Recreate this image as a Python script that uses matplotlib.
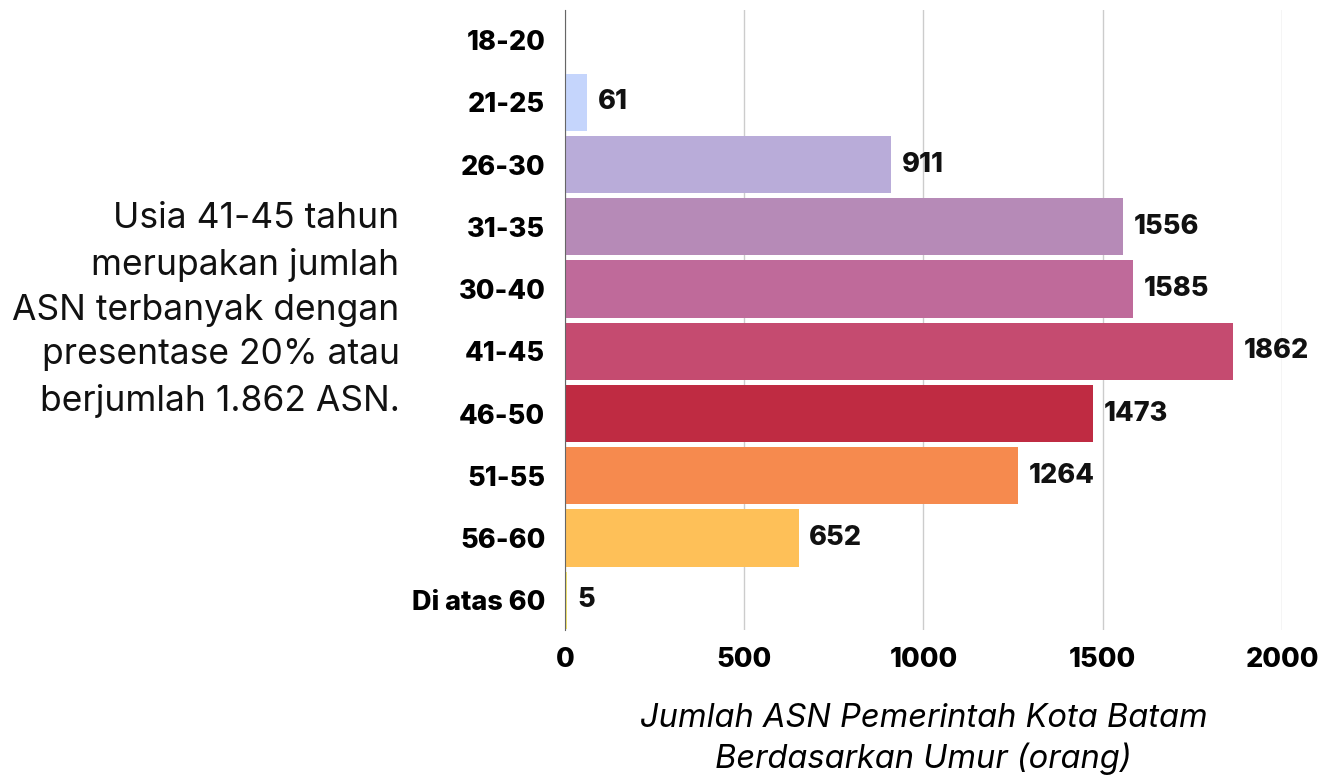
import matplotlib
matplotlib.use("Agg")
import matplotlib.pyplot as plt

plt.rcParams['font.family'] = ['Inter', 'DejaVu Sans']

kelompok = ["18-20", "21-25", "26-30", "31-35", "30-40", "41-45", "46-50", "51-55", "56-60", "Di atas 60"]
jumlah = [0, 61, 911, 1556, 1585, 1862, 1473, 1264, 652, 5]
warna = ["#c9d8fc", "#c5d5fc", "#b9acd9", "#b68ab7", "#bf6a9a", "#c54b70", "#bf2b42", "#f68a4e", "#fec058", "#f3e46e"]

fig = plt.figure(figsize=(13.32, 7.78), dpi=100)
ax = fig.add_axes([0.424, 0.19, 0.5385, 0.797])

y = list(range(len(kelompok)))
ax.barh(y, jumlah, height=0.92, color=warna, zorder=3)
for i, v in enumerate(jumlah):
    if v > 0:
        ax.text(v + 30, i, str(v), va="center", ha="left", fontsize=19.5, fontweight="heavy", color="#111111")

ax.set_ylim(9.48, -0.48)
ax.set_xlim(0, 2000)
ax.set_yticks(y)
ax.set_yticklabels(kelompok, fontsize=19.5, fontweight="heavy")
ax.set_xticks([0, 500, 1000, 1500, 2000])
ax.set_xticklabels(["0", "500", "1000", "1500", "2000"], fontsize=19.5, fontweight="heavy")
ax.tick_params(length=0, pad=14)
ax.tick_params(axis="x", pad=12)
ax.grid(axis="x", color="#cccccc", linewidth=1, zorder=0)
for s in ["top", "right", "bottom"]:
    ax.spines[s].set_visible(False)
ax.spines["left"].set_color("#666666")
ax.spines["left"].set_zorder(4)

ax.set_xlabel("Jumlah ASN Pemerintah Kota Batam\nBerdasarkan Umur (orang)", fontsize=23.5, style="italic", labelpad=22, linespacing=1.3)

fig.text(0.300, 0.6015, "Usia 41-45 tahun\nmerupakan jumlah\nASN terbanyak dengan\npresentase 20% atau\nberjumlah 1.862 ASN.",
         ha="right", va="center", fontsize=25.5, linespacing=1.46, color="#111111")

fig.savefig("out.png", dpi=100)
